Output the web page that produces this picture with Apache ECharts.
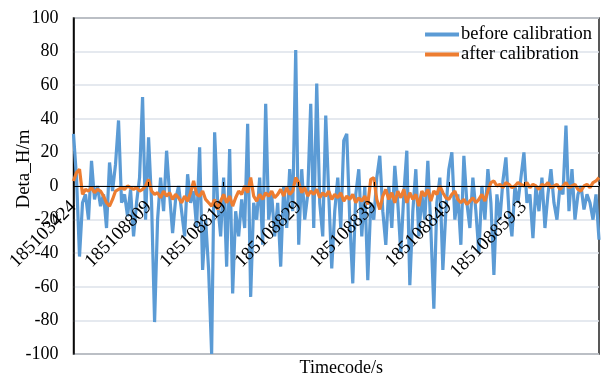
<!DOCTYPE html>
<html>
<head>
<meta charset="utf-8">
<script src="https://cdn.jsdelivr.net/npm/echarts@6/dist/echarts.min.js"></script>
<style>
  html, body { margin: 0; padding: 0; background: #fff; }
  #main { width: 601px; height: 376px; }
</style>
</head>
<body>
<div id="main"></div>
<script>
// tick labels shown every 25 samples
var tickLabels = ['185103424', '185108809', '185108819', '185108829', '185108839', '185108849', '185108859.3'];
var perTick = 25;

// before calibration (blue)
var beforeData = [
  31, 5, -42, -10, -5, -20, 15, -8, 0, -12, -5, -25, 14, -3, 13, 39, -10, -5, -18, -2, -30, -10, 5, 53, -20,
  29, -10, -81, -20, 5, -15, 21, -5, -28, -8, 0, -15, -30, 7, -10, -3, -25, 23, -50, -20, -50, -100, 32, -10, -30,
  5, -48, 22, -64, -15, -30, -8, -25, 37, -66, -10, -20, 5, -35, 49, -20, -5, -30, -10, -48, 0, -25, 10, -15, 81,
  -35, 10, -20, -5, 49, -25, 61, -10, -30, 42, -5, -49, -15, 5, -25, 27, 31, -20, -58, -5, 10, -30, 0, -56, -10,
  -20, 5, 18, -15, -35, 0, -25, 12, -10, -40, -5, 21, -59, -15, 10, -30, -5, -20, 15, -25, -73, -10, 5, -50, -15,
  10, 20, -20, -5, -35, 18, -10, -25, 5, -15, -40, 0, -20, 10, -10, -53, -5, -20, 3, 17, -15, -30, 0, -10, 5,
  20, -10, -5, -31, 0, -15, 5, -25, -5, 10, -10, -20, 0, -5, 36, -15, 10, -20, -5, 0, -14, -5, -10, -20, -5, -32
];

// after calibration (orange)
var afterData = [
  3, 8, 10, -5, -2, -3, -1, -4, -2, -3, -6, -10, -12, -8, -3, -2, -1, -2, 0, -1, -2, -1, -3, -2, 0,
  4, -3, -5, -4, -7, -3, -6, -4, -8, -5, -7, -10, -6, -9, -4, 3, -5, -6, -3, -8, -10, -12, -8, -14, -9,
  -5, -10, -6, -12, -7, -3, -5, 0, -4, 5, -6, -9, -5, -8, -4, -6, -3, -7, -5, -2, -6, -1, -5, -3, 5,
  2, -4, -1, -6, -3, -5, -2, -7, -4, -6, -3, -8, -5, -7, -4, -9, -6, -8, -5, -10, -7, -9, -6, -11, 4,
  5, -8, -14, -6, -2, -8, -4, -10, -3, -7, -2, -10, -4, -8, -5, -12, -3, -6, -2, -9, -3, -5, 0, -4, -7,
  -8, -5, -3, -8, -10, -8, -11, -9, -7, -10, -8, -5, -9, -3, 2, 3, 0, 1, -1, 2, 1, -1, 0, 2, 1,
  0, 2, -1, 1, 0, -2, 1, 0, 2, -1, 0, 1, -2, 0, 2, -1, 0, 1, -2, -3, 0, 1, -1, 2, 3, 5
];

var categories = []
for (var i = 0; i < beforeData.length; i++) {
  var k = i / perTick
  categories.push(i % perTick === 0 && k < tickLabels.length ? tickLabels[k] : '')
}

var serif = "'Liberation Serif', 'Times New Roman', serif"

var chart = echarts.init(document.getElementById('main'))
chart.setOption({
  animation: false,
  color: ['#5b9bd5', '#ed7d31'],
  grid: {
    left: 73.5,
    right: 2,
    top: 18,
    bottom: 22,
    containLabel: false,
    outerBoundsMode: 'none',
    show: true,
    borderColor: '#222',
    borderWidth: 1.5
  },
  legend: {
    orient: 'vertical',
    right: 4,
    top: 20,
    itemGap: 1,
    itemWidth: 34,
    itemHeight: 4,
    icon: 'rect',
    textStyle: { fontFamily: serif, fontSize: 18.5, color: '#000', padding: [0, 0, 0, -3] },
    data: ['before calibration', 'after calibration']
  },
  xAxis: {
    type: 'category',
    boundaryGap: false,
    data: categories,
    offset: -168,
    z: 5,
    name: 'Timecode/s',
    nameLocation: 'middle',
    nameGap: 173,
    nameMoveOverlap: false,
    nameTextStyle: { fontFamily: serif, fontSize: 18, color: '#000', padding: [0, 0, 0, 10] },
    axisLine: { onZero: false, lineStyle: { color: '#000', width: 1 } },
    axisTick: { show: true, inside: true, length: 4, interval: perTick - 1, lineStyle: { color: '#000' } },
    axisLabel: {
      interval: perTick - 1,
      rotate: 45,
      margin: 18,
      fontFamily: serif,
      fontSize: 19,
      color: '#000'
    },
    splitLine: { show: false }
  },
  yAxis: {
    type: 'value',
    min: -100,
    max: 100,
    interval: 20,
    name: 'Deta_H/m',
    nameLocation: 'middle',
    nameGap: 40,
    nameMoveOverlap: false,
    nameTextStyle: { fontFamily: serif, fontSize: 19, color: '#000', padding: [0, 0, 0, 34] },
    axisLine: { show: true, lineStyle: { color: '#000', width: 1.5 } },
    axisTick: { show: false },
    axisLabel: { fontFamily: serif, fontSize: 18, color: '#000', margin: 15 },
    splitLine: { lineStyle: { color: '#dde2ea', width: 1.5 } }
  },
  series: [{
    name: 'before calibration',
    type: 'line',
    data: beforeData,
    symbol: 'none',
    lineStyle: { width: 3.2 },
    z: 2
  }, {
    name: 'after calibration',
    type: 'line',
    data: afterData,
    symbol: 'none',
    lineStyle: { width: 3.2 },
    z: 3
  }]
})
</script>
</body>
</html>
